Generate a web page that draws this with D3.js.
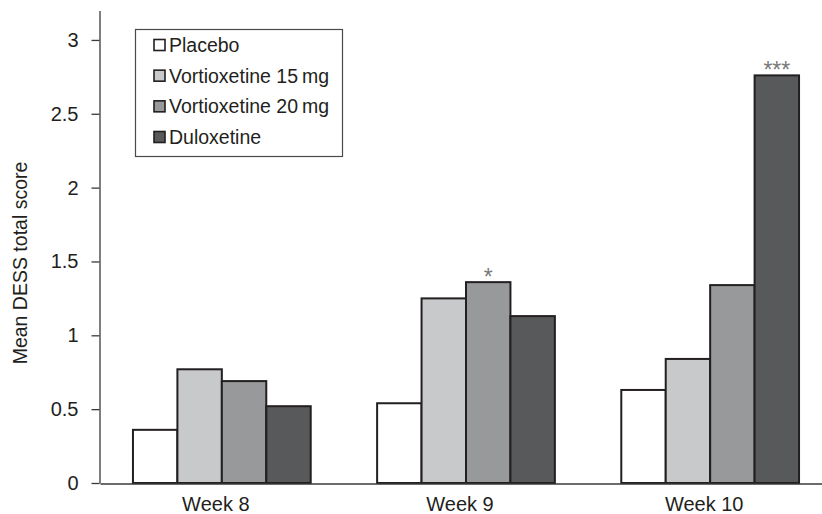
<!DOCTYPE html>
<html>
<head>
<meta charset="utf-8">
<script src="https://cdn.jsdelivr.net/npm/d3@7"></script>
<style>
  html, body { margin: 0; padding: 0; background: #fff; }
  svg { display: block; font-family: "Liberation Sans", Arial, Helvetica, sans-serif; }
</style>
</head>
<body>
<svg id="chart" width="822" height="514"></svg>
<script>
// Mean DESS total score by week and treatment arm
const weeks = ["Week 8", "Week 9", "Week 10"];
const treatments = ["Placebo", "Vortioxetine 15\u2009mg", "Vortioxetine 20\u2009mg", "Duloxetine"];
const placebo   = [0.36, 0.54, 0.63];
const vortio15  = [0.77, 1.25, 0.84];
const vortio20  = [0.69, 1.36, 1.34];
const duloxetine = [0.52, 1.13, 2.76];
const significance = [["", "", "", ""], ["", "", "*", ""], ["", "", "", "***"]];
const yTicks = [0, 0.5, 1, 1.5, 2, 2.5, 3];
const yTickLabels = ["0", "0.5", "1", "1.5", "2", "2.5", "3"];
const fills = ["#ffffff", "#c8c9cb", "#98999b", "#58595b"];

const series = [placebo, vortio15, vortio20, duloxetine];
const rows = weeks.map((w, i) => ({
  week: w,
  values: treatments.map((t, j) => ({ treatment: t, value: series[j][i], mark: significance[i][j] }))
}));

const svg = d3.select("#chart");
const axisColor = "#3a3a3a";
const barStroke = "#231f20";

const y = d3.scaleLinear().domain([0, 3.2]).range([483, 10.4]);
const x0 = d3.scaleBand().domain(weeks).range([100, 832]).paddingInner(0.272).paddingOuter(0.135);
const x1 = d3.scaleBand().domain(treatments).range([0, x0.bandwidth()]);
const color = d3.scaleOrdinal().domain(treatments).range(fills);

// bars
const groups = svg.append("g").selectAll("g")
  .data(rows).join("g")
  .attr("transform", d => `translate(${x0(d.week)},0)`);

groups.selectAll("rect")
  .data(d => d.values).join("rect")
  .attr("x", d => x1(d.treatment))
  .attr("y", d => y(d.value))
  .attr("width", x1.bandwidth())
  .attr("height", d => y(0) - y(d.value))
  .attr("fill", d => color(d.treatment))
  .attr("stroke", barStroke)
  .attr("stroke-width", 2);

// significance markers
groups.selectAll("text.sig")
  .data(d => d.values.filter(v => v.mark)).join("text")
  .attr("class", "sig")
  .attr("x", d => x1(d.treatment) + x1.bandwidth() / 2)
  .attr("y", d => y(d.value) + 3)
  .attr("text-anchor", "middle")
  .attr("font-size", 23)
  .attr("fill", "#7a7a7a")
  .text(d => d.mark);

// y axis
const yAxis = svg.append("g")
  .attr("transform", "translate(99.5,0)")
  .call(d3.axisLeft(y).tickValues(yTicks).tickFormat((d, i) => yTickLabels[i])
    .tickSize(8).tickSizeOuter(0).tickPadding(13));
yAxis.select(".domain").attr("stroke", axisColor).attr("stroke-width", 1.3);
yAxis.selectAll(".tick line").attr("stroke", axisColor).attr("stroke-width", 1.3);
yAxis.selectAll(".tick text").attr("font-size", 20).attr("fill", "#231f20")
  .attr("font-family", "'Liberation Sans', Arial, sans-serif");

// x axis
const xAxis = svg.append("g")
  .attr("transform", `translate(0,${y(0) + 0.5})`)
  .call(d3.axisBottom(x0).tickSize(0).tickPadding(13));
xAxis.select(".domain").attr("stroke", axisColor).attr("stroke-width", 1.3);
xAxis.selectAll(".tick text").attr("font-size", 20).attr("fill", "#231f20")
  .attr("x", -6)
  .attr("font-family", "'Liberation Sans', Arial, sans-serif");

// y axis title
svg.append("text")
  .attr("transform", `translate(27,263) rotate(-90)`)
  .attr("text-anchor", "middle")
  .attr("font-size", 19.5)
  .attr("fill", "#231f20")
  .text("Mean DESS total score");

// legend
const legend = svg.append("g");
legend.append("rect")
  .attr("x", 135.5).attr("y", 29.5)
  .attr("width", 207).attr("height", 127)
  .attr("fill", "#fff")
  .attr("stroke", "#4a4a4a")
  .attr("stroke-width", 1.2);

const legendRow = d3.scalePoint().domain(treatments).range([45, 137]);
const items = legend.selectAll("g.item")
  .data(treatments).join("g")
  .attr("class", "item")
  .attr("transform", d => `translate(0,${legendRow(d)})`);
items.append("rect")
  .attr("x", 154).attr("y", -5.5)
  .attr("width", 11).attr("height", 11)
  .attr("fill", d => color(d))
  .attr("stroke", barStroke)
  .attr("stroke-width", 1.6);
items.append("text")
  .attr("x", 169).attr("y", 0)
  .attr("dy", "0.36em")
  .attr("font-size", 19.5)
  .attr("fill", "#231f20")
  .text(d => d);
</script>
</body>
</html>
